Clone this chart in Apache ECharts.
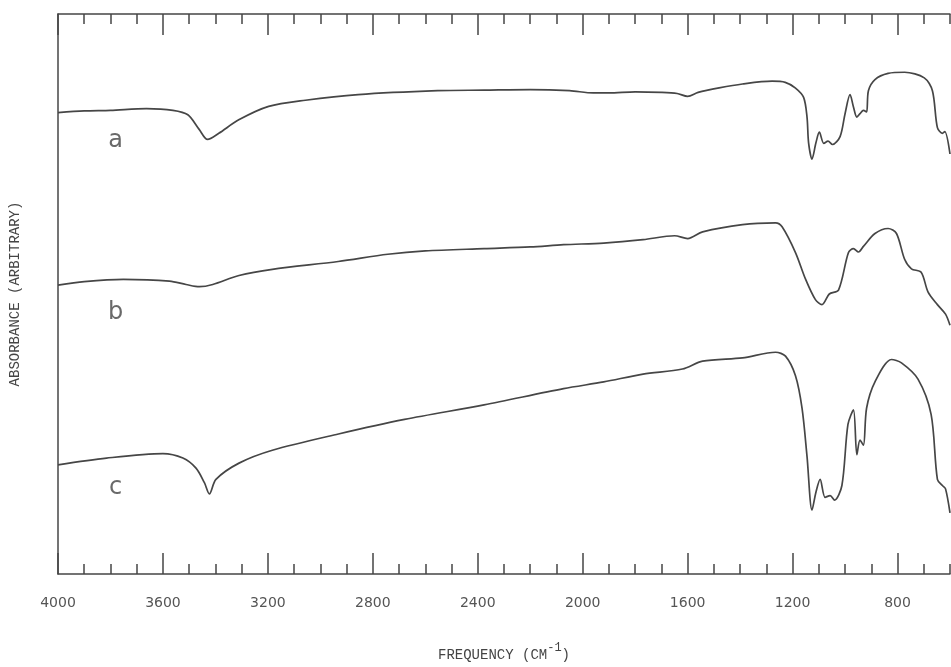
<!DOCTYPE html>
<html>
<head>
<meta charset="utf-8">
<title>IR spectra</title>
<script src="https://cdn.jsdelivr.net/npm/echarts@6/dist/echarts.min.js"></script>
<style>
  html, body { margin: 0; padding: 0; background: #fff; }
  #chart { width: 951px; height: 667px; }
</style>
</head>
<body>
<div id="chart"></div>
<script>
// spectra: [frequency cm-1, absorbance (arbitrary, 0-100)]
var spectrumA = [
  [4000, 82.4], [3900, 82.7], [3800, 82.8], [3663, 83.1], [3562, 82.8], [3505, 82.0],
  [3462, 79.4], [3430, 77.6], [3387, 78.7], [3311, 81.1], [3197, 83.5], [3057, 84.6],
  [2856, 85.6], [2553, 86.3], [2376, 86.4], [2200, 86.5], [2050, 86.3], [1960, 85.9],
  [1900, 85.9], [1800, 86.1], [1700, 86.0], [1640, 85.8], [1600, 85.3], [1560, 86.0],
  [1480, 86.8], [1391, 87.5], [1278, 88.0], [1228, 87.8], [1190, 86.8], [1158, 85.1],
  [1145, 81.6], [1139, 77.0], [1126, 74.1], [1111, 77.0], [1098, 78.9], [1081, 76.9],
  [1065, 77.3], [1048, 76.7], [1019, 78.1], [1000, 82.2], [981, 85.6], [968, 83.4],
  [955, 81.6], [943, 82.2], [930, 82.8], [918, 82.5], [911, 86.3], [886, 88.3],
  [836, 89.4], [773, 89.6], [698, 88.6], [667, 86.3], [648, 79.7], [629, 78.7],
  [620, 79.0], [600, 75.0]
];
var spectrumB = [
  [4000, 51.6], [3900, 52.2], [3751, 52.6], [3575, 52.3], [3512, 51.7], [3461, 51.3],
  [3410, 51.7], [3310, 53.3], [3183, 54.4], [2932, 55.8], [2743, 57.1], [2600, 57.7],
  [2376, 58.1], [2200, 58.4], [2073, 58.8], [1920, 59.1], [1770, 59.7], [1650, 60.4],
  [1600, 59.9], [1543, 61.1], [1391, 62.4], [1265, 62.7], [1240, 62.0], [1189, 57.4],
  [1151, 52.7], [1113, 49.0], [1088, 48.1], [1060, 50.0], [1025, 50.7], [987, 57.4],
  [968, 58.1], [949, 57.5], [930, 58.5], [886, 60.8], [836, 61.7], [804, 60.8],
  [773, 56.2], [747, 54.5], [710, 53.9], [684, 50.4], [648, 48.1], [617, 46.4],
  [600, 44.4]
];
var spectrumC = [
  [4000, 19.5], [3815, 20.7], [3600, 21.5], [3524, 20.7], [3474, 18.9], [3442, 16.3],
  [3423, 14.3], [3398, 16.9], [3310, 19.8], [3183, 22.1], [2931, 25.0], [2679, 27.6],
  [2376, 30.2], [2073, 33.1], [1920, 34.3], [1770, 35.7], [1620, 36.6], [1543, 38.0],
  [1391, 38.6], [1265, 39.6], [1227, 38.9], [1189, 35.4], [1164, 29.6], [1145, 21.0],
  [1126, 11.4], [1111, 14.6], [1095, 16.9], [1076, 13.7], [1057, 14.0], [1040, 13.2],
  [1012, 15.8], [989, 26.7], [968, 29.3], [955, 21.3], [943, 23.9], [930, 23.0],
  [918, 29.6], [886, 34.3], [823, 38.3], [785, 37.7], [722, 34.8], [672, 28.5],
  [648, 16.9], [629, 15.8], [617, 15.2], [600, 10.9]
];

var curveNames = ['a', 'b', 'c'];
var curveLabelAt = [[3780, 77.3], [3780, 46.6], [3780, 15.4]];
var majorTicks = [4000, 3600, 3200, 2800, 2400, 2000, 1600, 1200, 800];

var chart = echarts.init(document.getElementById('chart'));
var ink = '#464646';

function baseAxis(pos, major) {
  return {
    type: 'value',
    position: pos,
    inverse: true,
    min: 600,
    max: 4000,
    interval: major ? undefined : 100,
    axisLine: { show: major, lineStyle: { color: ink, width: 1.5 } },
    axisTick: major ? {
      inside: true, length: 21, lineStyle: { color: ink, width: 1.5 },
      customValues: majorTicks
    } : {
      inside: true, length: 10, lineStyle: { color: ink, width: 1.5 }
    },
    axisLabel: { show: false },
    splitLine: { show: false }
  };
}

var xBottom = baseAxis('bottom', true);
xBottom.axisLabel = {
  show: true,
  customValues: majorTicks,
  formatter: function (v) { return String(v); },
  margin: 22,
  color: '#555',
  fontFamily: 'DejaVu Sans',
  fontSize: 14
};
xBottom.name = '{t|FREQUENCY (CM}{s|-1}{t|)}';
xBottom.nameLocation = 'middle';
xBottom.nameGap = 68;
xBottom.nameTextStyle = {
  rich: {
    t: { fontFamily: 'Liberation Mono', fontSize: 14, color: '#444', verticalAlign: 'bottom' },
    s: { fontFamily: 'Liberation Mono', fontSize: 12, color: '#444', verticalAlign: 'bottom', padding: [0, 0, 8, 0] }
  }
};

var option = {
  backgroundColor: '#fff',
  animation: false,
  grid: { left: 51, right: 1, top: 14, bottom: 76 },
  xAxis: [xBottom, baseAxis('bottom', false), baseAxis('top', true), baseAxis('top', false)],
  yAxis: {
    type: 'value',
    min: 0,
    max: 100,
    axisLine: { show: true, lineStyle: { color: ink, width: 1.5 } },
    axisTick: { show: false },
    axisLabel: { show: false },
    splitLine: { show: false },
    name: 'ABSORBANCE (ARBITRARY)',
    nameLocation: 'middle',
    nameRotate: 90,
    nameGap: 36,
    nameTextStyle: { fontFamily: 'Liberation Mono', fontSize: 14, color: '#444' }
  },
  series: [spectrumA, spectrumB, spectrumC].map(function (d, i) {
    return {
      name: curveNames[i],
      type: 'line',
      data: d,
      smooth: 0.3,
      showSymbol: false,
      lineStyle: { color: ink, width: 1.7 }
    };
  }).concat([{
    type: 'scatter',
    symbolSize: 0,
    data: curveLabelAt.map(function (p, i) { return { value: p, name: curveNames[i] }; }),
    label: {
      show: true,
      position: 'inside',
      formatter: '{b}',
      fontFamily: 'DejaVu Sans',
      fontSize: 24,
      color: '#444'
    }
  }])
};

chart.setOption(option);
</script>
</body>
</html>
